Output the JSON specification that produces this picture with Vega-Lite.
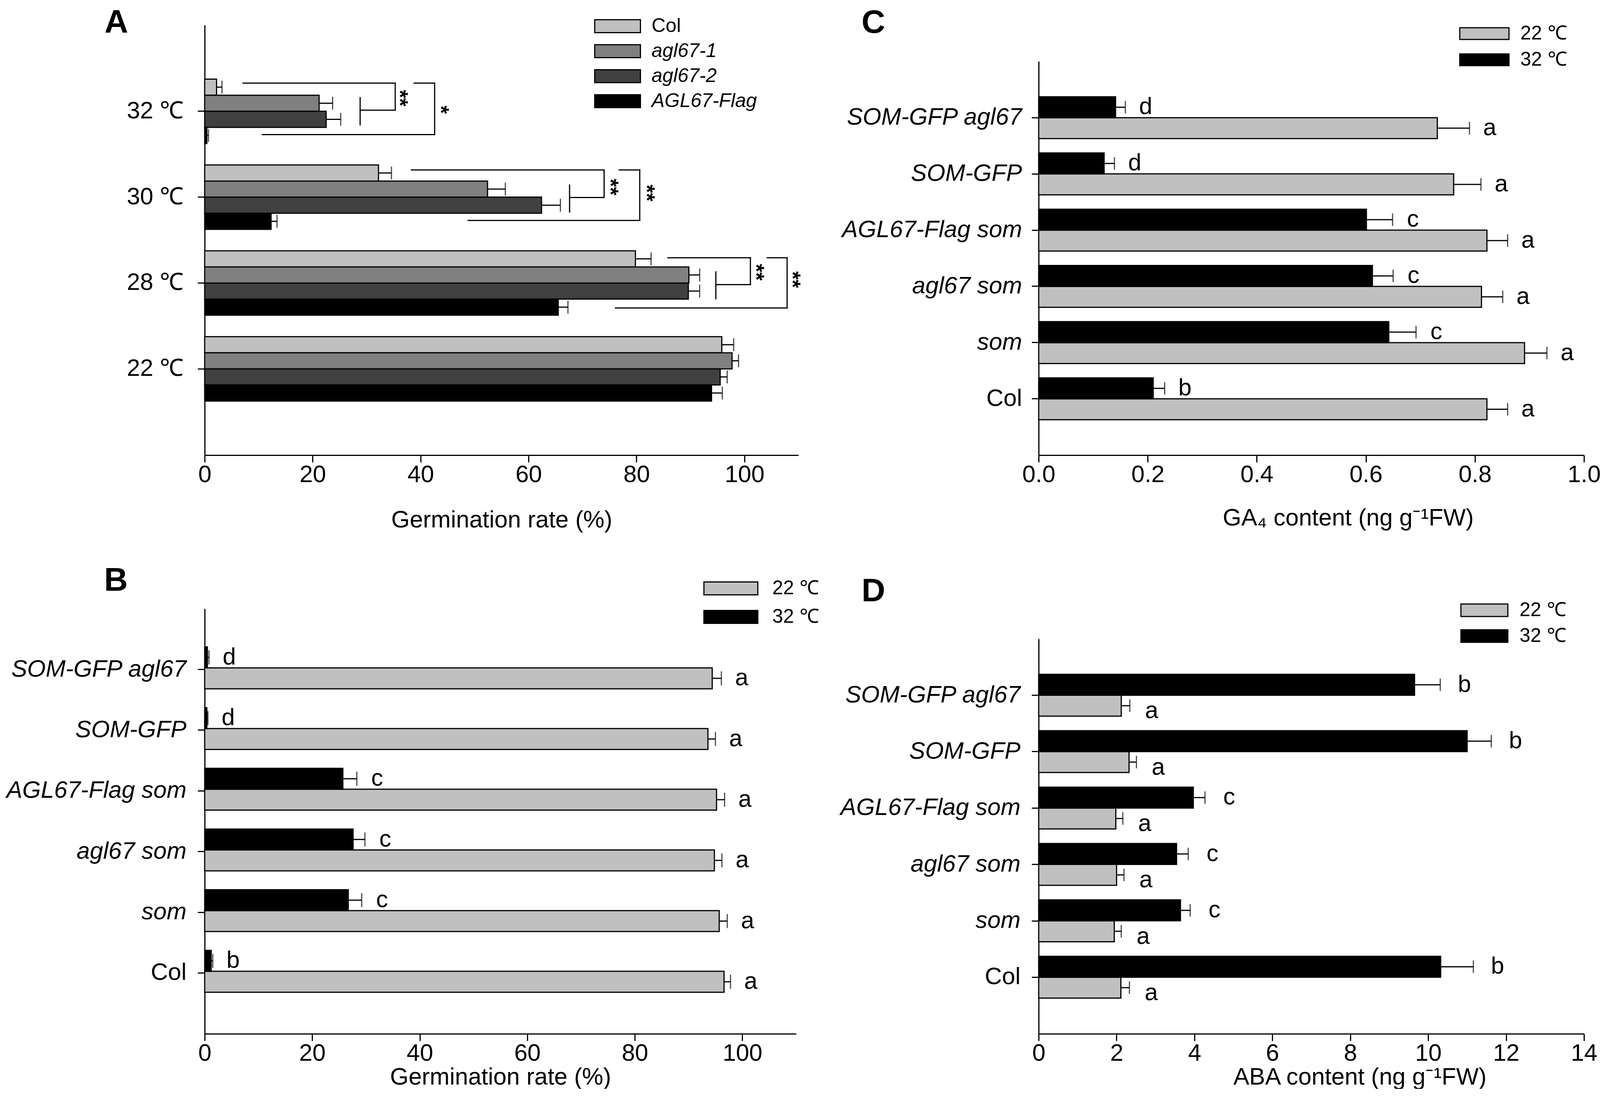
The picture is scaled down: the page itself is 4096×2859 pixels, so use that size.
{
  "$schema": "https://vega.github.io/schema/vega-lite/v6.json",
  "background": "white",
  "padding": {"left": 15, "top": 16, "right": 0, "bottom": 0},
  "columns": 2,
  "bounds": "flush",
  "spacing": {"row": 393, "column": 615},
  "resolve": {"scale": {"color": "independent"}, "legend": {"color": "independent"}},
  "config": {
    "font": "Liberation Sans",
    "view": {"stroke": null},
    "axis": {"domainColor": "black", "domainWidth": 3, "tickColor": "black", "tickWidth": 3, "tickSize": 18, "labelColor": "black", "labelFontSize": 61, "titleFontSize": 61, "titleFontWeight": "normal", "titleColor": "black", "grid": false, "labelLimit": 1000, "titleLimit": 3000},
    "axisX": {"labelPadding": 2, "labelFlush": false},
    "legend": {"labelFontSize": 50, "labelLimit": 1000, "labelColor": "black", "symbolStrokeColor": "black", "symbolStrokeWidth": 3, "symbolOpacity": 1},
    "text": {"font": "Liberation Sans", "color": "black"}
  },
  "datasets": {
    "A": [
      {"temp": "32 ℃", "geno": "Col", "value": 2.2, "hi": 3.2},
      {"temp": "32 ℃", "geno": "agl67-1", "value": 21.2, "hi": 23.7},
      {"temp": "32 ℃", "geno": "agl67-2", "value": 22.5, "hi": 25.2},
      {"temp": "32 ℃", "geno": "AGL67-Flag", "value": 0.4, "hi": 0.7},
      {"temp": "30 ℃", "geno": "Col", "value": 32.2, "hi": 34.6},
      {"temp": "30 ℃", "geno": "agl67-1", "value": 52.4, "hi": 55.7},
      {"temp": "30 ℃", "geno": "agl67-2", "value": 62.4, "hi": 65.9},
      {"temp": "30 ℃", "geno": "AGL67-Flag", "value": 12.3, "hi": 13.4},
      {"temp": "28 ℃", "geno": "Col", "value": 79.8, "hi": 82.7},
      {"temp": "28 ℃", "geno": "agl67-1", "value": 89.7, "hi": 91.7},
      {"temp": "28 ℃", "geno": "agl67-2", "value": 89.6, "hi": 91.7},
      {"temp": "28 ℃", "geno": "AGL67-Flag", "value": 65.5, "hi": 67.3},
      {"temp": "22 ℃", "geno": "Col", "value": 95.8, "hi": 98.0},
      {"temp": "22 ℃", "geno": "agl67-1", "value": 97.7, "hi": 98.9},
      {"temp": "22 ℃", "geno": "agl67-2", "value": 95.5, "hi": 96.8},
      {"temp": "22 ℃", "geno": "AGL67-Flag", "value": 93.9, "hi": 95.9}
    ],
    "Abr": [
      {"seg": "32i1", "temp": "32 ℃", "bx": 7.1, "pos": 0.25}, {"seg": "32i1", "temp": "32 ℃", "bx": 35.3, "pos": 0.25},
      {"seg": "32i2", "temp": "32 ℃", "bx": 35.3, "pos": 0.25}, {"seg": "32i2", "temp": "32 ℃", "bx": 35.3, "pos": 1.93},
      {"seg": "32i3", "temp": "32 ℃", "bx": 28.8, "pos": 1.93}, {"seg": "32i3", "temp": "32 ℃", "bx": 35.3, "pos": 1.93},
      {"seg": "32i4", "temp": "32 ℃", "bx": 28.8, "pos": 1.15}, {"seg": "32i4", "temp": "32 ℃", "bx": 28.8, "pos": 2.84},
      {"seg": "32o1", "temp": "32 ℃", "bx": 38.8, "pos": 0.25}, {"seg": "32o1", "temp": "32 ℃", "bx": 42.6, "pos": 0.25},
      {"seg": "32o2", "temp": "32 ℃", "bx": 42.6, "pos": 0.25}, {"seg": "32o2", "temp": "32 ℃", "bx": 42.6, "pos": 3.45},
      {"seg": "32o3", "temp": "32 ℃", "bx": 10.7, "pos": 3.45}, {"seg": "32o3", "temp": "32 ℃", "bx": 42.6, "pos": 3.45},
      {"seg": "30i1", "temp": "30 ℃", "bx": 38.3, "pos": 0.31}, {"seg": "30i1", "temp": "30 ℃", "bx": 74.0, "pos": 0.31},
      {"seg": "30i2", "temp": "30 ℃", "bx": 74.0, "pos": 0.31}, {"seg": "30i2", "temp": "30 ℃", "bx": 74.0, "pos": 2.02},
      {"seg": "30i3", "temp": "30 ℃", "bx": 67.6, "pos": 2.02}, {"seg": "30i3", "temp": "30 ℃", "bx": 74.0, "pos": 2.02},
      {"seg": "30i4", "temp": "30 ℃", "bx": 67.6, "pos": 1.25}, {"seg": "30i4", "temp": "30 ℃", "bx": 67.6, "pos": 2.92},
      {"seg": "30o1", "temp": "30 ℃", "bx": 76.8, "pos": 0.31}, {"seg": "30o1", "temp": "30 ℃", "bx": 80.6, "pos": 0.31},
      {"seg": "30o2", "temp": "30 ℃", "bx": 80.6, "pos": 0.31}, {"seg": "30o2", "temp": "30 ℃", "bx": 80.6, "pos": 3.45},
      {"seg": "30o3", "temp": "30 ℃", "bx": 48.8, "pos": 3.45}, {"seg": "30o3", "temp": "30 ℃", "bx": 80.6, "pos": 3.45},
      {"seg": "28i1", "temp": "28 ℃", "bx": 85.8, "pos": 0.43}, {"seg": "28i1", "temp": "28 ℃", "bx": 101.1, "pos": 0.43},
      {"seg": "28i2", "temp": "28 ℃", "bx": 101.1, "pos": 0.43}, {"seg": "28i2", "temp": "28 ℃", "bx": 101.1, "pos": 2.1},
      {"seg": "28i3", "temp": "28 ℃", "bx": 94.7, "pos": 2.1}, {"seg": "28i3", "temp": "28 ℃", "bx": 101.1, "pos": 2.1},
      {"seg": "28i4", "temp": "28 ℃", "bx": 94.7, "pos": 1.31}, {"seg": "28i4", "temp": "28 ℃", "bx": 94.7, "pos": 2.98},
      {"seg": "28o1", "temp": "28 ℃", "bx": 104.2, "pos": 0.43}, {"seg": "28o1", "temp": "28 ℃", "bx": 107.9, "pos": 0.43},
      {"seg": "28o2", "temp": "28 ℃", "bx": 107.9, "pos": 0.43}, {"seg": "28o2", "temp": "28 ℃", "bx": 107.9, "pos": 3.55},
      {"seg": "28o3", "temp": "28 ℃", "bx": 76.1, "pos": 3.55}, {"seg": "28o3", "temp": "28 ℃", "bx": 107.9, "pos": 3.55}
    ],
    "Ast": [
      {"temp": "32 ℃", "sx": 37.0, "pos": 1.18, "star": "**"},
      {"temp": "32 ℃", "sx": 44.6, "pos": 1.9, "star": "*"},
      {"temp": "30 ℃", "sx": 76.0, "pos": 1.37, "star": "**"},
      {"temp": "30 ℃", "sx": 82.7, "pos": 1.74, "star": "**"},
      {"temp": "28 ℃", "sx": 103.0, "pos": 1.33, "star": "**"},
      {"temp": "28 ℃", "sx": 109.7, "pos": 1.79, "star": "**"}
    ],
    "B": [
      {"cat": "SOM-GFP agl67", "temp": "22 ℃", "value": 94.4, "hi": 96.1, "letter": "a"},
      {"cat": "SOM-GFP agl67", "temp": "32 ℃", "value": 0.5, "hi": 0.8, "letter": "d"},
      {"cat": "SOM-GFP", "temp": "22 ℃", "value": 93.6, "hi": 95.0, "letter": "a"},
      {"cat": "SOM-GFP", "temp": "32 ℃", "value": 0.4, "hi": 0.6, "letter": "d"},
      {"cat": "AGL67-Flag som", "temp": "22 ℃", "value": 95.2, "hi": 96.7, "letter": "a"},
      {"cat": "AGL67-Flag som", "temp": "32 ℃", "value": 25.7, "hi": 28.3, "letter": "c"},
      {"cat": "agl67 som", "temp": "22 ℃", "value": 94.8, "hi": 96.2, "letter": "a"},
      {"cat": "agl67 som", "temp": "32 ℃", "value": 27.6, "hi": 29.8, "letter": "c"},
      {"cat": "som", "temp": "22 ℃", "value": 95.7, "hi": 97.2, "letter": "a"},
      {"cat": "som", "temp": "32 ℃", "value": 26.7, "hi": 29.2, "letter": "c"},
      {"cat": "Col", "temp": "22 ℃", "value": 96.6, "hi": 97.8, "letter": "a"},
      {"cat": "Col", "temp": "32 ℃", "value": 1.2, "hi": 1.5, "letter": "b"}
    ],
    "C": [
      {"cat": "SOM-GFP agl67", "temp": "22 ℃", "value": 0.731, "hi": 0.790, "letter": "a"},
      {"cat": "SOM-GFP agl67", "temp": "32 ℃", "value": 0.141, "hi": 0.159, "letter": "d"},
      {"cat": "SOM-GFP", "temp": "22 ℃", "value": 0.761, "hi": 0.811, "letter": "a"},
      {"cat": "SOM-GFP", "temp": "32 ℃", "value": 0.120, "hi": 0.139, "letter": "d"},
      {"cat": "AGL67-Flag som", "temp": "22 ℃", "value": 0.822, "hi": 0.860, "letter": "a"},
      {"cat": "AGL67-Flag som", "temp": "32 ℃", "value": 0.601, "hi": 0.649, "letter": "c"},
      {"cat": "agl67 som", "temp": "22 ℃", "value": 0.812, "hi": 0.851, "letter": "a"},
      {"cat": "agl67 som", "temp": "32 ℃", "value": 0.612, "hi": 0.650, "letter": "c"},
      {"cat": "som", "temp": "22 ℃", "value": 0.891, "hi": 0.932, "letter": "a"},
      {"cat": "som", "temp": "32 ℃", "value": 0.642, "hi": 0.692, "letter": "c"},
      {"cat": "Col", "temp": "22 ℃", "value": 0.822, "hi": 0.860, "letter": "a"},
      {"cat": "Col", "temp": "32 ℃", "value": 0.210, "hi": 0.231, "letter": "b"}
    ],
    "D": [
      {"cat": "SOM-GFP agl67", "temp": "22 ℃", "value": 2.12, "hi": 2.34, "letter": "a"},
      {"cat": "SOM-GFP agl67", "temp": "32 ℃", "value": 9.65, "hi": 10.31, "letter": "b"},
      {"cat": "SOM-GFP", "temp": "22 ℃", "value": 2.32, "hi": 2.51, "letter": "a"},
      {"cat": "SOM-GFP", "temp": "32 ℃", "value": 11.0, "hi": 11.62, "letter": "b"},
      {"cat": "AGL67-Flag som", "temp": "22 ℃", "value": 1.98, "hi": 2.16, "letter": "a"},
      {"cat": "AGL67-Flag som", "temp": "32 ℃", "value": 3.97, "hi": 4.27, "letter": "c"},
      {"cat": "agl67 som", "temp": "22 ℃", "value": 2.00, "hi": 2.19, "letter": "a"},
      {"cat": "agl67 som", "temp": "32 ℃", "value": 3.54, "hi": 3.84, "letter": "c"},
      {"cat": "som", "temp": "22 ℃", "value": 1.94, "hi": 2.12, "letter": "a"},
      {"cat": "som", "temp": "32 ℃", "value": 3.64, "hi": 3.89, "letter": "c"},
      {"cat": "Col", "temp": "22 ℃", "value": 2.11, "hi": 2.33, "letter": "a"},
      {"cat": "Col", "temp": "32 ℃", "value": 10.32, "hi": 11.16, "letter": "b"}
    ]
  },
  "concat": [
    {
      "width": 1520,
      "height": 1101,
      "resolve": {"scale": {"yOffset": "independent"}},
      "layer": [
        {
          "data": {"name": "A"},
          "mark": {"type": "bar", "stroke": "black", "strokeWidth": 3},
          "encoding": {
            "y": {"field": "temp", "type": "nominal", "scale": {"domain": ["32 ℃", "30 ℃", "28 ℃", "22 ℃"], "range": [0, 1101], "paddingInner": 0.25, "paddingOuter": 0.63},
              "axis": {"title": "A", "titleAngle": 0, "titleX": -257, "titleY": 19, "titleAlign": "left", "titleBaseline": "alphabetic", "titleFontSize": 84, "titleFontWeight": "bold", "labelPadding": 36}},
            "yOffset": {"field": "geno", "type": "nominal", "scale": {"domain": ["Col", "agl67-1", "agl67-2", "AGL67-Flag"], "paddingInner": 0, "paddingOuter": 0}},
            "x": {"field": "value", "type": "quantitative", "scale": {"domain": [0, 110], "nice": false},
              "axis": {"title": "Germination rate (%)", "values": [0, 20, 40, 60, 80, 100], "format": "d", "titlePadding": 56}},
            "color": {"field": "geno", "type": "nominal", "scale": {"domain": ["Col", "agl67-1", "agl67-2", "AGL67-Flag"], "range": ["#c0c0c0", "#808080", "#404040", "#000000"]},
              "legend": {"orient": "none", "legendX": 1032, "legendY": -22, "title": null, "symbolType": "M-3.545,-1H3.545V1H-3.545Z", "symbolSize": 1089, "labelOffset": 62, "rowPadding": 14,
                "encode": {"labels": {"update": {"fontStyle": {"signal": "datum.value === 'Col' ? 'normal' : 'italic'"}}}}}}
          }
        },
        {
          "data": {"name": "A"},
          "mark": {"type": "rule", "color": "black", "strokeWidth": 3},
          "encoding": {
            "y": {"field": "temp", "type": "nominal", "scale": {"domain": ["32 ℃", "30 ℃", "28 ℃", "22 ℃"], "range": [0, 1101], "paddingInner": 0.25, "paddingOuter": 0.63}},
            "yOffset": {"field": "geno", "type": "nominal", "scale": {"domain": ["Col", "agl67-1", "agl67-2", "AGL67-Flag"], "paddingInner": 0, "paddingOuter": 0}},
            "x": {"field": "value", "type": "quantitative", "scale": {"domain": [0, 110], "nice": false}},
            "x2": {"field": "hi"}
          }
        },
        {
          "data": {"name": "A"},
          "mark": {"type": "tick", "orient": "vertical", "color": "black", "thickness": 3, "size": 33},
          "encoding": {
            "y": {"field": "temp", "type": "nominal", "scale": {"domain": ["32 ℃", "30 ℃", "28 ℃", "22 ℃"], "range": [0, 1101], "paddingInner": 0.25, "paddingOuter": 0.63}},
            "yOffset": {"field": "geno", "type": "nominal", "scale": {"domain": ["Col", "agl67-1", "agl67-2", "AGL67-Flag"], "paddingInner": 0, "paddingOuter": 0}},
            "x": {"field": "hi", "type": "quantitative", "scale": {"domain": [0, 110], "nice": false}}
          }
        },
        {
          "data": {"name": "Abr"},
          "mark": {"type": "line", "color": "black", "strokeWidth": 3, "strokeCap": "square"},
          "encoding": {
            "y": {"field": "temp", "type": "nominal", "scale": {"domain": ["32 ℃", "30 ℃", "28 ℃", "22 ℃"], "range": [0, 1101], "paddingInner": 0.25, "paddingOuter": 0.63}},
            "yOffset": {"field": "pos", "type": "quantitative", "scale": {"domain": [0, 4], "nice": false, "zero": false}},
            "x": {"field": "bx", "type": "quantitative", "scale": {"domain": [0, 110], "nice": false}},
            "detail": {"field": "seg", "type": "nominal"}
          }
        },
        {
          "data": {"name": "Ast"},
          "mark": {"type": "text", "angle": 90, "fontSize": 55, "fontWeight": "bold", "align": "center", "baseline": "middle", "dy": 12},
          "encoding": {
            "y": {"field": "temp", "type": "nominal", "scale": {"domain": ["32 ℃", "30 ℃", "28 ℃", "22 ℃"], "range": [0, 1101], "paddingInner": 0.25, "paddingOuter": 0.63}},
            "yOffset": {"field": "pos", "type": "quantitative", "scale": {"domain": [0, 4], "nice": false, "zero": false}},
            "x": {"field": "sx", "type": "quantitative", "scale": {"domain": [0, 110], "nice": false}},
            "text": {"field": "star"}
          }
        }
      ]
    },
    {
      "width": 1396,
      "height": 1101,
      "layer": [
        {
          "data": {"name": "C"},
          "mark": {"type": "bar", "stroke": "black", "strokeWidth": 3},
          "encoding": {
            "y": {"field": "cat", "type": "nominal", "scale": {"domain": ["SOM-GFP agl67", "SOM-GFP", "AGL67-Flag som", "agl67 som", "som", "Col"], "range": [93, 1101], "paddingInner": 0.256, "paddingOuter": 0.63},
              "axis": {"title": "C", "titleAngle": 0, "titleX": -454, "titleY": 19, "titleAlign": "left", "titleBaseline": "alphabetic", "titleFontSize": 84, "titleFontWeight": "bold", "labelPadding": 25,
                "labelFontStyle": {"condition": {"test": "datum.value === 'Col'", "value": "normal"}, "value": "italic"}}},
            "yOffset": {"field": "temp", "type": "nominal", "scale": {"domain": ["32 ℃", "22 ℃"], "paddingInner": 0, "paddingOuter": 0}},
            "x": {"field": "value", "type": "quantitative", "scale": {"domain": [0, 1], "nice": false},
              "axis": {"title": "GA₄ content (ng g⁻¹FW)", "values": [0, 0.2, 0.4, 0.6, 0.8, 1.0], "format": ".1f", "titlePadding": 51, "titleX": 792}},
            "color": {"field": "temp", "type": "nominal", "scale": {"domain": ["22 ℃", "32 ℃"], "range": ["#c0c0c0", "#000000"]},
              "legend": {"orient": "none", "legendX": 1116, "legendY": -3, "title": null, "symbolType": "M-4.2,-1H4.2V1H-4.2Z", "symbolSize": 900, "labelOffset": 67, "rowPadding": 17}}
          }
        },
        {
          "data": {"name": "C"},
          "mark": {"type": "rule", "color": "black", "strokeWidth": 3},
          "encoding": {
            "y": {"field": "cat", "type": "nominal", "scale": {"domain": ["SOM-GFP agl67", "SOM-GFP", "AGL67-Flag som", "agl67 som", "som", "Col"], "range": [93, 1101], "paddingInner": 0.256, "paddingOuter": 0.63}},
            "yOffset": {"field": "temp", "type": "nominal", "scale": {"domain": ["32 ℃", "22 ℃"], "paddingInner": 0, "paddingOuter": 0}},
            "x": {"field": "value", "type": "quantitative", "scale": {"domain": [0, 1], "nice": false}},
            "x2": {"field": "hi"}
          }
        },
        {
          "data": {"name": "C"},
          "mark": {"type": "tick", "orient": "vertical", "color": "black", "thickness": 3, "size": 32},
          "encoding": {
            "y": {"field": "cat", "type": "nominal", "scale": {"domain": ["SOM-GFP agl67", "SOM-GFP", "AGL67-Flag som", "agl67 som", "som", "Col"], "range": [93, 1101], "paddingInner": 0.256, "paddingOuter": 0.63}},
            "yOffset": {"field": "temp", "type": "nominal", "scale": {"domain": ["32 ℃", "22 ℃"], "paddingInner": 0, "paddingOuter": 0}},
            "x": {"field": "hi", "type": "quantitative", "scale": {"domain": [0, 1], "nice": false}}
          }
        },
        {
          "data": {"name": "C"},
          "mark": {"type": "text", "align": "center", "baseline": "middle", "dx": 52, "fontSize": 61},
          "encoding": {
            "y": {"field": "cat", "type": "nominal", "scale": {"domain": ["SOM-GFP agl67", "SOM-GFP", "AGL67-Flag som", "agl67 som", "som", "Col"], "range": [93, 1101], "paddingInner": 0.256, "paddingOuter": 0.63}},
            "yOffset": {"field": "temp", "type": "nominal", "scale": {"domain": ["32 ℃", "22 ℃"], "paddingInner": 0, "paddingOuter": 0}},
            "x": {"field": "hi", "type": "quantitative", "scale": {"domain": [0, 1], "nice": false}},
            "text": {"field": "letter"}
          }
        }
      ]
    },
    {
      "width": 1514,
      "height": 1088,
      "layer": [
        {
          "data": {"name": "B"},
          "mark": {"type": "bar", "stroke": "black", "strokeWidth": 3},
          "encoding": {
            "y": {"field": "cat", "type": "nominal", "scale": {"domain": ["SOM-GFP agl67", "SOM-GFP", "AGL67-Flag som", "agl67 som", "som", "Col"], "range": [0, 1088], "paddingInner": 0.256, "paddingOuter": 0.63},
              "axis": {"title": "B", "titleAngle": 0, "titleX": -258, "titleY": -47, "titleAlign": "left", "titleBaseline": "alphabetic", "titleFontSize": 84, "titleFontWeight": "bold", "labelPadding": 29,
                "labelFontStyle": {"condition": {"test": "datum.value === 'Col'", "value": "normal"}, "value": "italic"}}},
            "yOffset": {"field": "temp", "type": "nominal", "scale": {"domain": ["32 ℃", "22 ℃"], "paddingInner": 0, "paddingOuter": 0}},
            "x": {"field": "value", "type": "quantitative", "scale": {"domain": [0, 110], "nice": false},
              "axis": {"title": "Germination rate (%)", "values": [0, 20, 40, 60, 80, 100], "format": "d", "titlePadding": 1}},
            "color": {"field": "temp", "type": "nominal", "scale": {"domain": ["22 ℃", "32 ℃"], "range": ["#c0c0c0", "#000000"]},
              "legend": {"orient": "none", "legendX": 1322, "legendY": -77, "title": null, "symbolType": "M-4.18,-1H4.18V1H-4.18Z", "symbolSize": 1089, "labelOffset": 81, "rowPadding": 23}}
          }
        },
        {
          "data": {"name": "B"},
          "mark": {"type": "rule", "color": "black", "strokeWidth": 3},
          "encoding": {
            "y": {"field": "cat", "type": "nominal", "scale": {"domain": ["SOM-GFP agl67", "SOM-GFP", "AGL67-Flag som", "agl67 som", "som", "Col"], "range": [0, 1088], "paddingInner": 0.256, "paddingOuter": 0.63}},
            "yOffset": {"field": "temp", "type": "nominal", "scale": {"domain": ["32 ℃", "22 ℃"], "paddingInner": 0, "paddingOuter": 0}},
            "x": {"field": "value", "type": "quantitative", "scale": {"domain": [0, 110], "nice": false}},
            "x2": {"field": "hi"}
          }
        },
        {
          "data": {"name": "B"},
          "mark": {"type": "tick", "orient": "vertical", "color": "black", "thickness": 3, "size": 36},
          "encoding": {
            "y": {"field": "cat", "type": "nominal", "scale": {"domain": ["SOM-GFP agl67", "SOM-GFP", "AGL67-Flag som", "agl67 som", "som", "Col"], "range": [0, 1088], "paddingInner": 0.256, "paddingOuter": 0.63}},
            "yOffset": {"field": "temp", "type": "nominal", "scale": {"domain": ["32 ℃", "22 ℃"], "paddingInner": 0, "paddingOuter": 0}},
            "x": {"field": "hi", "type": "quantitative", "scale": {"domain": [0, 110], "nice": false}}
          }
        },
        {
          "data": {"name": "B"},
          "mark": {"type": "text", "align": "center", "baseline": "middle", "dx": 52, "fontSize": 61},
          "encoding": {
            "y": {"field": "cat", "type": "nominal", "scale": {"domain": ["SOM-GFP agl67", "SOM-GFP", "AGL67-Flag som", "agl67 som", "som", "Col"], "range": [0, 1088], "paddingInner": 0.256, "paddingOuter": 0.63}},
            "yOffset": {"field": "temp", "type": "nominal", "scale": {"domain": ["32 ℃", "22 ℃"], "paddingInner": 0, "paddingOuter": 0}},
            "x": {"field": "hi", "type": "quantitative", "scale": {"domain": [0, 110], "nice": false}},
            "text": {"field": "letter"}
          }
        }
      ]
    },
    {
      "width": 1396,
      "height": 1088,
      "layer": [
        {
          "data": {"name": "D"},
          "mark": {"type": "bar", "stroke": "black", "strokeWidth": 3},
          "encoding": {
            "y": {"field": "cat", "type": "nominal", "scale": {"domain": ["SOM-GFP agl67", "SOM-GFP", "AGL67-Flag som", "agl67 som", "som", "Col"], "range": [77, 1088], "paddingInner": 0.256, "paddingOuter": 0.63},
              "axis": {"title": "D", "titleAngle": 0, "titleX": -454, "titleY": -20, "titleAlign": "left", "titleBaseline": "alphabetic", "titleFontSize": 84, "titleFontWeight": "bold", "labelPadding": 29,
                "labelFontStyle": {"condition": {"test": "datum.value === 'Col'", "value": "normal"}, "value": "italic"}}},
            "yOffset": {"field": "temp", "type": "nominal", "scale": {"domain": ["32 ℃", "22 ℃"], "paddingInner": 0, "paddingOuter": 0}},
            "x": {"field": "value", "type": "quantitative", "scale": {"domain": [0, 14], "nice": false},
              "axis": {"title": "ABA content (ng g⁻¹FW)", "values": [0, 2, 4, 6, 8, 10, 12, 14], "format": "d", "titlePadding": 1, "titleX": 822}},
            "color": {"field": "temp", "type": "nominal", "scale": {"domain": ["22 ℃", "32 ℃"], "range": ["#c0c0c0", "#000000"]},
              "legend": {"orient": "none", "legendX": 1116, "legendY": -21, "title": null, "symbolType": "M-3.75,-1H3.75V1H-3.75Z", "symbolSize": 1024, "labelOffset": 65, "rowPadding": 16}}
          }
        },
        {
          "data": {"name": "D"},
          "mark": {"type": "rule", "color": "black", "strokeWidth": 3},
          "encoding": {
            "y": {"field": "cat", "type": "nominal", "scale": {"domain": ["SOM-GFP agl67", "SOM-GFP", "AGL67-Flag som", "agl67 som", "som", "Col"], "range": [77, 1088], "paddingInner": 0.256, "paddingOuter": 0.63}},
            "yOffset": {"field": "temp", "type": "nominal", "scale": {"domain": ["32 ℃", "22 ℃"], "paddingInner": 0, "paddingOuter": 0}},
            "x": {"field": "value", "type": "quantitative", "scale": {"domain": [0, 14], "nice": false}},
            "x2": {"field": "hi"}
          }
        },
        {
          "data": {"name": "D"},
          "mark": {"type": "tick", "orient": "vertical", "color": "black", "thickness": 3, "size": 32},
          "encoding": {
            "y": {"field": "cat", "type": "nominal", "scale": {"domain": ["SOM-GFP agl67", "SOM-GFP", "AGL67-Flag som", "agl67 som", "som", "Col"], "range": [77, 1088], "paddingInner": 0.256, "paddingOuter": 0.63}},
            "yOffset": {"field": "temp", "type": "nominal", "scale": {"domain": ["32 ℃", "22 ℃"], "paddingInner": 0, "paddingOuter": 0}},
            "x": {"field": "hi", "type": "quantitative", "scale": {"domain": [0, 14], "nice": false}}
          }
        },
        {
          "data": {"name": "D"},
          "transform": [{"filter": "datum.temp === '32 ℃'"}],
          "mark": {"type": "text", "align": "center", "baseline": "middle", "dx": 62, "fontSize": 61},
          "encoding": {
            "y": {"field": "cat", "type": "nominal", "scale": {"domain": ["SOM-GFP agl67", "SOM-GFP", "AGL67-Flag som", "agl67 som", "som", "Col"], "range": [77, 1088], "paddingInner": 0.256, "paddingOuter": 0.63}},
            "yOffset": {"field": "temp", "type": "nominal", "scale": {"domain": ["32 ℃", "22 ℃"], "paddingInner": 0, "paddingOuter": 0}},
            "x": {"field": "hi", "type": "quantitative", "scale": {"domain": [0, 14], "nice": false}},
            "text": {"field": "letter"}
          }
        },
        {
          "data": {"name": "D"},
          "transform": [{"filter": "datum.temp === '22 ℃'"}],
          "mark": {"type": "text", "align": "center", "baseline": "middle", "dx": 56, "dy": 14, "fontSize": 61},
          "encoding": {
            "y": {"field": "cat", "type": "nominal", "scale": {"domain": ["SOM-GFP agl67", "SOM-GFP", "AGL67-Flag som", "agl67 som", "som", "Col"], "range": [77, 1088], "paddingInner": 0.256, "paddingOuter": 0.63}},
            "yOffset": {"field": "temp", "type": "nominal", "scale": {"domain": ["32 ℃", "22 ℃"], "paddingInner": 0, "paddingOuter": 0}},
            "x": {"field": "hi", "type": "quantitative", "scale": {"domain": [0, 14], "nice": false}},
            "text": {"field": "letter"}
          }
        }
      ]
    }
  ]
}
